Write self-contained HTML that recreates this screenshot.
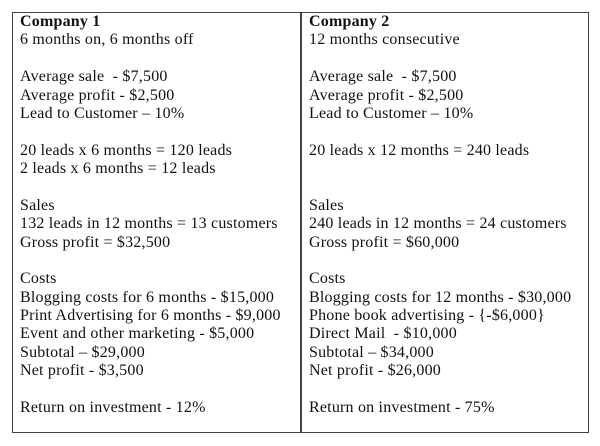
<!DOCTYPE html>
<html><head><meta charset="utf-8"><style>
html,body{margin:0;padding:0;background:#fff;width:600px;height:446px;overflow:hidden}
.tbl{position:absolute;left:12px;top:12px;width:577px;height:421px;border:1.5px solid #444;box-sizing:border-box}
.div{position:absolute;left:300px;top:12px;width:1.5px;height:421px;background:#444}
.col{position:absolute;top:13px;font-family:"Liberation Serif",serif;font-size:16px;letter-spacing:0.2px;line-height:18.38px;color:#111}
.col div{height:18.38px;white-space:pre}
b{font-weight:bold}
</style></head><body>
<div class="tbl"></div>
<div class="div"></div>
<div class="col" style="left:20px"><div><b>Company 1</b></div><div>6 months on, 6 months off</div><div></div><div>Average sale  - $7,500</div><div>Average profit - $2,500</div><div>Lead to Customer – 10%</div><div></div><div>20 leads x 6 months = 120 leads</div><div>2 leads x 6 months = 12 leads</div><div></div><div>Sales</div><div>132 leads in 12 months = 13 customers</div><div>Gross profit = $32,500</div><div></div><div>Costs</div><div>Blogging costs for 6 months - $15,000</div><div>Print Advertising for 6 months - $9,000</div><div>Event and other marketing - $5,000</div><div>Subtotal – $29,000</div><div>Net profit - $3,500</div><div></div><div>Return on investment - 12%</div></div>
<div class="col" style="left:309px"><div><b>Company 2</b></div><div>12 months consecutive</div><div></div><div>Average sale  - $7,500</div><div>Average profit - $2,500</div><div>Lead to Customer – 10%</div><div></div><div>20 leads x 12 months = 240 leads</div><div></div><div></div><div>Sales</div><div>240 leads in 12 months = 24 customers</div><div>Gross profit = $60,000</div><div></div><div>Costs</div><div>Blogging costs for 12 months - $30,000</div><div>Phone book advertising - {-$6,000}</div><div>Direct Mail  - $10,000</div><div>Subtotal – $34,000</div><div>Net profit - $26,000</div><div></div><div>Return on investment - 75%</div></div>
</body></html>
